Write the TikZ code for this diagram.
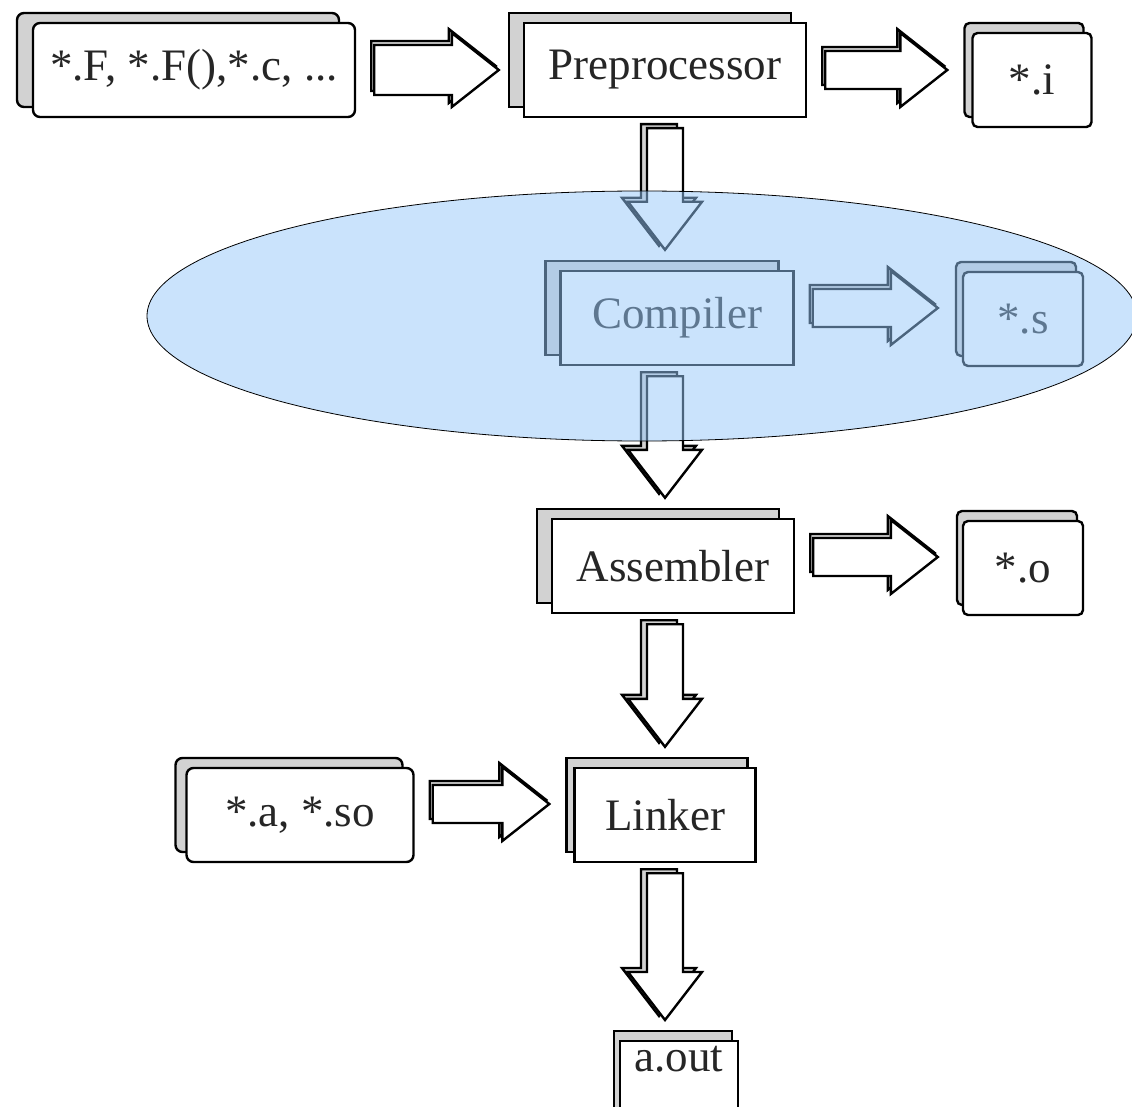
\documentclass[tikz,border=0pt]{standalone}
\usepackage{fontspec}
\setmainfont{Liberation Serif}
\usetikzlibrary{calc,shadows}

\definecolor{backgray}{RGB}{210,210,210}
\definecolor{hiblue}{RGB}{150,200,250}
\newcommand\boxfont{\fontsize{45}{54}\selectfont}

\tikzset{
  box/.style={draw, line width=2.4pt, fill=white, inner sep=0pt, minimum height=94pt, font=\boxfont, text=black!85},
  backcopy/.style={general shadow={shadow scale=1, shadow xshift=-#1, shadow yshift=10pt, draw=black, fill=backgray, line width=2.4pt}},
  tool/.style={box, backcopy=#1},
  tool/.default=15pt,
  file/.style={box, backcopy=#1, rounded corners=5pt},
  file/.default=7pt,
  srcfile/.style={box, backcopy=#1, rounded corners=7pt},
  blockarrow/.style={draw, line width=2.4pt, fill=white, general shadow={shadow scale=1, shadow xshift=-#1, shadow yshift=4pt, draw=black, fill=backgray, line width=2.4pt}},
  hilite/.style={draw=black, line width=0.8pt, fill=hiblue, fill opacity=0.5}
}

% horizontal block arrow: [lift] from to
\def\shaft{20}
\newcommand\harrow[3][0]{%
  \draw[blockarrow=3pt] let \p1=(#2.east), \p2=(#3.west) in
    (\x1+18pt,\y1+#1pt+\shaft pt) -- (\x2-71pt,\y1+#1pt+\shaft pt) -- (\x2-71pt,\y1+#1pt+37pt)
    -- (\x2-24pt,\y1+#1pt) -- (\x2-71pt,\y1+#1pt-37pt) -- (\x2-71pt,\y1+#1pt-\shaft pt)
    -- (\x1+18pt,\y1+#1pt-\shaft pt) -- cycle;}

% vertical block arrow: [shift] from to
\newcommand\varrow[3][0]{%
  \draw[blockarrow=6pt] let \p1=(#2.south), \p2=(#3.north) in
    (\x1+#1pt-18pt,\y1-10pt) -- (\x1+#1pt+18pt,\y1-10pt) -- (\x1+#1pt+18pt,\y2+68pt)
    -- (\x1+#1pt+37pt,\y2+68pt) -- (\x1+#1pt,\y2+20pt) -- (\x1+#1pt-37pt,\y2+68pt)
    -- (\x1+#1pt-18pt,\y2+68pt) -- cycle;}

\begin{document}
\begin{tikzpicture}[x=1pt,y=-1pt]
  \clip (0,0) rectangle (1132,1107);

  % Tools and files
  \node[srcfile=16pt, minimum width=322pt] (src) at (194,70) {*.F, *.F(),*.c, ...};
  \node[tool, minimum width=282pt] (pre) at (665,70) {Preprocessor};
  \node[file=8pt, minimum width=119pt] (outi) at (1032,80) {*.i};
  \node[tool, minimum width=233pt] (comp) at (677,318) {Compiler};
  \node[file, minimum width=120pt] (outs) at (1023,319) {*.s};
  \node[tool, minimum width=242pt] (asm) at (673,566) {Assembler};
  \node[file=6pt, minimum width=120pt] (outo) at (1023,568) {*.o};
  \node[srcfile=11pt, minimum width=227pt] (libs) at (300,815) {*.a, *.so};
  \node[tool=8pt, minimum width=181pt] (link) at (665,815) {Linker};
  \node[tool=6pt, minimum width=118pt, minimum height=0pt, text height=30pt, text depth=60pt, anchor=north] (aout) at (679,1040) {a.out};

  % Arrows
  \def\shaft{25}
  \harrow{src}{pre}
  \def\shaft{19}
  \harrow{pre}{outi}
  \harrow[10]{comp}{outs}
  \harrow[9]{asm}{outo}
  \harrow[11]{libs}{link}
  \varrow{pre}{comp}
  \varrow[-12]{comp}{asm}
  \varrow[-8]{asm}{link}
  \varrow{link}{aout}

  % Compiler stage
  \draw[hilite] (642,316) ellipse [x radius=495pt, y radius=125pt];
\end{tikzpicture}
\end{document}
